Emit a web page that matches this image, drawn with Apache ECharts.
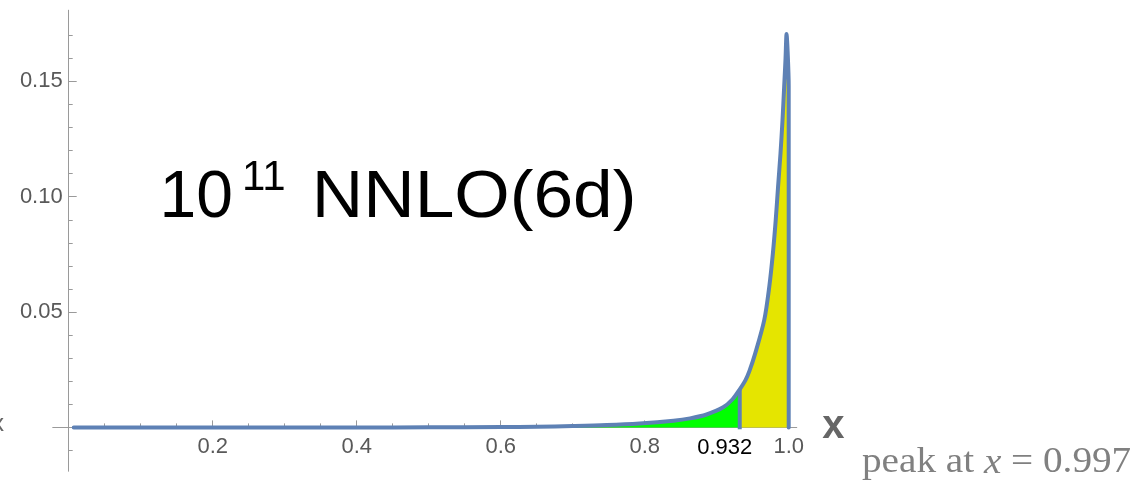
<!DOCTYPE html>
<html>
<head>
<meta charset="utf-8">
<script src="https://cdn.jsdelivr.net/npm/echarts@6/dist/echarts.min.js"></script>
<style>
html,body{margin:0;padding:0;background:#fff;}
#c{width:1141px;height:483px;}
</style>
</head>
<body>
<div id="c"></div>
<script>
// ---- data ----
const curveX = [0.007, 0.1, 0.2, 0.3, 0.4, 0.5, 0.6, 0.65, 0.7, 0.747, 0.793, 0.84, 0.863, 0.886, 0.909, 0.922, 0.932, 0.940, 0.9455, 0.9535, 0.966, 0.973, 0.978, 0.982, 0.9852, 0.9886, 0.9914, 0.9937, 0.9956, 0.997, 0.9985, 1.0, 1.0];
const curveY = [0, 0, 0, 0, 0, 0.00003, 0.00015, 0.0003, 0.0006, 0.0010, 0.0017, 0.0029, 0.0039, 0.0056, 0.0087, 0.0122, 0.0165, 0.0205, 0.0245, 0.0321, 0.0465, 0.0610, 0.0754, 0.0900, 0.1043, 0.1188, 0.1332, 0.1477, 0.1600, 0.1705, 0.1630, 0.1480, 0];
const cutX = 0.932;
const cutLineY = [-0.0008, 0.0165];
const xMajorTicks = [0.2, 0.4, 0.6, 0.8, 1.0];
const xMinorTicks = [0.05, 0.1, 0.15, 0.25, 0.3, 0.35, 0.45, 0.5, 0.55, 0.65, 0.7, 0.75, 0.85, 0.9, 0.95];
const yMajorTicks = [0.05, 0.10, 0.15];
const yMinorTicks = [-0.01, 0.01, 0.02, 0.03, 0.04, 0.06, 0.07, 0.08, 0.09, 0.11, 0.12, 0.13, 0.14, 0.16, 0.17];
const xRange = [-0.0218, 1.0111];
const yRange = [-0.0189, 0.1808];
const titleMain = '10';
const titleSup = '11';
const titleRest = 'NNLO(6d)';
const peakText = 'peak at {i|x} = 0.997';

// ---- build ----
const curve = curveX.map((x, i) => [x, curveY[i]]);
const greenPart = curve.filter(p => p[0] <= cutX);
const yellowPart = curve.filter(p => p[0] >= cutX);
const cutLine = cutLineY.map(y => [cutX, y]);

const AX = '#9a9a9a';
const LBL = '#595959';
const FONT = '"Liberation Sans", Arial, sans-serif';
const SERIF = '"Liberation Serif", "Times New Roman", serif';
const BLUE = '#5e81b5';

const chart = echarts.init(document.getElementById('c'), null, {renderer: 'canvas'});

function buildOption(xOff, yOff) {
  const baseX = {
    type: 'value', min: xRange[0], max: xRange[1], position: 'bottom', offset: xOff,
    splitLine: {show: false},
    axisLine: {show: true, onZero: false, lineStyle: {color: AX, width: 1}}
  };
  const baseY = {
    type: 'value', min: yRange[0], max: yRange[1], position: 'left', offset: yOff,
    splitLine: {show: false},
    axisLine: {show: true, onZero: false, lineStyle: {color: AX, width: 1}}
  };
  const smoothOpt = {smooth: 0.3};
  return {
    animation: false,
    backgroundColor: '#fff',
    grid: {left: 53, right: 344.3, top: 10.3, bottom: 12, containLabel: false, outerBoundsMode: 'none'},
    xAxis: [
      Object.assign({}, baseX, {
        name: 'x', nameLocation: 'end', nameGap: 25.5,
        nameTextStyle: {fontSize: 40, fontWeight: 'bold', color: '#666', fontFamily: FONT, verticalAlign: 'middle'},
        axisTick: {show: true, inside: true, length: 7, customValues: xMajorTicks, lineStyle: {color: AX}},
        axisLabel: {show: true, customValues: xMajorTicks, margin: 9, fontSize: 22, color: LBL, fontFamily: FONT,
          formatter: v => v.toFixed(1)}
      }),
      Object.assign({}, baseX, {
        axisTick: {show: true, inside: true, length: 4, customValues: xMinorTicks, lineStyle: {color: AX}},
        axisLabel: {show: false}
      })
    ],
    yAxis: [
      Object.assign({}, baseY, {
        axisTick: {show: true, inside: true, length: 8, customValues: yMajorTicks, lineStyle: {color: AX}},
        axisLabel: {show: true, customValues: yMajorTicks, margin: 6, fontSize: 22, color: LBL, fontFamily: FONT,
          formatter: v => v.toFixed(2)}
      }),
      Object.assign({}, baseY, {
        axisTick: {show: true, inside: true, length: 4, customValues: yMinorTicks, lineStyle: {color: AX}},
        axisLabel: {show: false}
      })
    ],
    series: [
      Object.assign({type: 'line', data: greenPart, showSymbol: false, symbol: 'none', z: 1,
        lineStyle: {width: 0, opacity: 0}, areaStyle: {color: '#00ff00', opacity: 1}}, smoothOpt),
      Object.assign({type: 'line', data: yellowPart, showSymbol: false, symbol: 'none', z: 1,
        lineStyle: {width: 0, opacity: 0}, areaStyle: {color: '#e5e500', opacity: 1}}, smoothOpt),
      {type: 'line', data: cutLine, showSymbol: false, symbol: 'none', z: 2,
        lineStyle: {width: 4, color: BLUE, cap: 'butt'}},
      Object.assign({type: 'line', data: curve, showSymbol: false, symbol: 'none', z: 3,
        lineStyle: {width: 4, color: BLUE, cap: 'round', join: 'round'}}, smoothOpt)
    ]
  };
}

chart.setOption(buildOption(0, 0));
// move the axes to cross at the origin, measured through the library's own scales
const zero = chart.convertToPixel({xAxisIndex: 0, yAxisIndex: 0}, [0, 0]);
const corner = chart.convertToPixel({xAxisIndex: 0, yAxisIndex: 0}, [xRange[0], yRange[0]]);
const xOff = -(corner[1] - zero[1]);
const yOff = -(zero[0] - corner[0]);
chart.setOption(buildOption(xOff, yOff), true);

const p = chart.convertToPixel({xAxisIndex: 0, yAxisIndex: 0}, [cutX, 0]);
chart.setOption({
  graphic: [
    {type: 'text', x: 159.5, y: 199, style: {text: titleMain, fontSize: 66, fontFamily: FONT, fill: '#000', verticalAlign: 'middle'}},
    {type: 'text', x: 242, y: 178.3, style: {text: titleSup, fontSize: 42, fontFamily: FONT, fill: '#000', verticalAlign: 'middle'}},
    {type: 'text', x: 311.7, y: 199, scaleX: 1.08, style: {text: titleRest, fontSize: 66, fontFamily: FONT, fill: '#000', verticalAlign: 'middle'}},
    {type: 'text', x: 862, y: 463.3, scaleX: 1.12, style: {text: peakText, fontSize: 35, fontFamily: SERIF, fill: '#808080', verticalAlign: 'middle',
      rich: {i: {fontStyle: 'italic', fontSize: 35, fontFamily: SERIF, fill: '#808080'}}}},
    {type: 'text', x: 4, y: 424, style: {text: 'x', fontSize: 24, fontFamily: FONT, fill: '#666', align: 'right', verticalAlign: 'middle'}},
    {type: 'text', x: p[0] - 15, y: p[1] + 20.5, style: {text: cutX.toFixed(3), fontSize: 22, fontFamily: FONT, fill: '#000', align: 'center', verticalAlign: 'middle'}}
  ]
});
</script>
</body>
</html>
